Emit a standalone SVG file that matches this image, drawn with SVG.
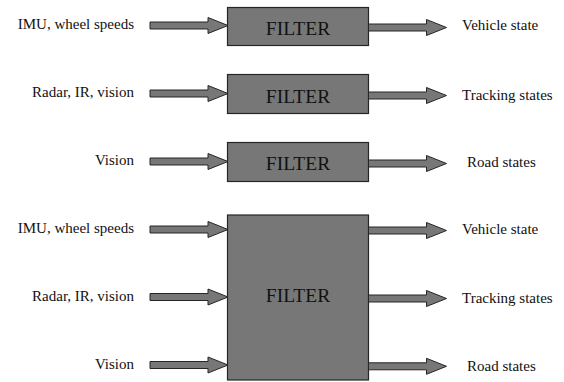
<svg xmlns="http://www.w3.org/2000/svg" xmlns:xlink="http://www.w3.org/1999/xlink" width="564" height="382" viewBox="0 0 564 382">
  <style>
    .box { fill: #777777; stroke: #262626; stroke-width: 1.2; }
    .arrow { fill: #777777; stroke: #262626; stroke-width: 1; stroke-linejoin: miter; }
    text { font-family: 'Liberation Serif', 'Times New Roman', 'DejaVu Serif', serif; fill: #111; }
    .lbl { font-size: 15px; }
    .in { text-anchor: end; }
    .title { font-size: 19.5px; text-anchor: middle; }
  </style>
  <defs>
    <!-- block arrow: shaft 58 long, head 20 long, centred on y=0 -->
    <path id="blk" class="arrow" d="M0,-3.5 H58 V-8 L78,0 L58,8 V3.5 H0 Z"/>
  </defs>

  <!-- separate filters -->
  <g id="filter-vehicle">
    <rect class="box" x="227.5" y="7.5" width="141" height="38"/>
    <text class="title" x="298" y="34.5" font-family="Liberation Serif, serif">FILTER</text>
  </g>
  <g id="filter-tracking">
    <rect class="box" x="227.5" y="74.5" width="141" height="39"/>
    <text class="title" x="298" y="102.5" font-family="Liberation Serif, serif">FILTER</text>
  </g>
  <g id="filter-road">
    <rect class="box" x="227.5" y="142.5" width="141" height="39"/>
    <text class="title" x="298" y="170" font-family="Liberation Serif, serif">FILTER</text>
  </g>

  <!-- combined filter -->
  <g id="filter-combined">
    <rect class="box" x="227.5" y="215" width="141" height="165"/>
    <text class="title" x="298" y="302" font-family="Liberation Serif, serif">FILTER</text>
  </g>

  <!-- input / output labels -->
  <g id="labels" font-family="Liberation Serif, serif">
    <text class="lbl in" x="134" y="29">IMU, wheel speeds</text>
    <text class="lbl in" x="134" y="97">Radar, IR, vision</text>
    <text class="lbl in" x="134" y="165">Vision</text>
    <text class="lbl" x="462" y="29.5">Vehicle state</text>
    <text class="lbl" x="462" y="100">Tracking states</text>
    <text class="lbl" x="467" y="167">Road states</text>

    <text class="lbl in" x="134" y="233">IMU, wheel speeds</text>
    <text class="lbl in" x="134" y="301">Radar, IR, vision</text>
    <text class="lbl in" x="134" y="368.5">Vision</text>
    <text class="lbl" x="462" y="233.5">Vehicle state</text>
    <text class="lbl" x="462" y="302.5">Tracking states</text>
    <text class="lbl" x="467" y="371">Road states</text>
  </g>

  <!-- connectors -->
  <g id="connectors">
    <use xlink:href="#blk" transform="translate(150,25.5)"/>
    <use xlink:href="#blk" transform="translate(150,93.5)"/>
    <use xlink:href="#blk" transform="translate(150,161.5)"/>
    <use xlink:href="#blk" transform="translate(368.5,27.5)"/>
    <use xlink:href="#blk" transform="translate(368.5,95.5)"/>
    <use xlink:href="#blk" transform="translate(368.5,163.5)"/>

    <use xlink:href="#blk" transform="translate(150,229.5)"/>
    <use xlink:href="#blk" transform="translate(150,297)"/>
    <use xlink:href="#blk" transform="translate(150,365)"/>
    <use xlink:href="#blk" transform="translate(368.5,230.5)"/>
    <use xlink:href="#blk" transform="translate(368.5,298.5)"/>
    <use xlink:href="#blk" transform="translate(368.5,366.3)"/>
  </g>
</svg>
